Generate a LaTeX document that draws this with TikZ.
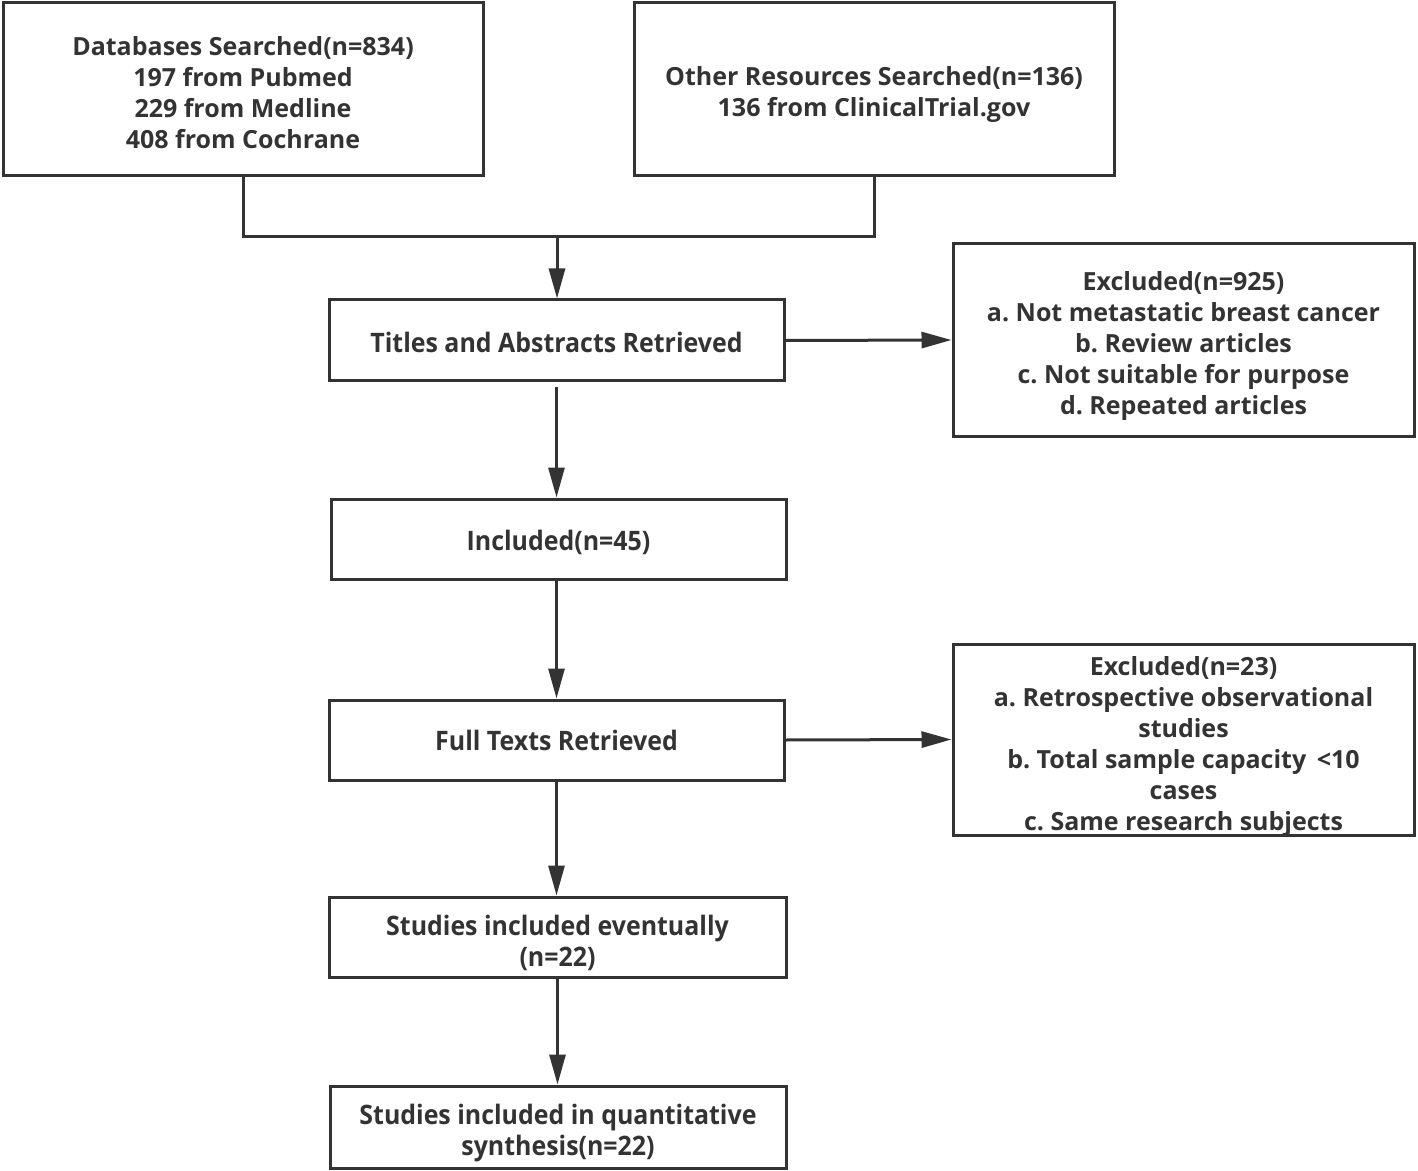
\documentclass[tikz,border=0pt]{standalone}
\usepackage{fontspec}
\setmainfont{Open Sans}
\newfontfamily\condfont[FakeStretch=0.93]{Open Sans}
\usetikzlibrary{arrows.meta}
\definecolor{ink}{HTML}{333333}
\frenchspacing
\begin{document}
\begin{tikzpicture}[x=0.5pt,y=-0.5pt,
  frame/.style={draw=ink, line width=1.5pt, inner sep=0pt},
  txt/.style={text=ink, align=center, inner sep=0pt,
    font=\fontsize{12.5}{15.5}\selectfont\bfseries},
  ctxt/.style={txt, font=\fontsize{13.4}{15.5}\selectfont\condfont\bfseries},
  conn/.style={draw=ink, line width=1.5pt},
  arr/.style={conn, -{Triangle[length=15pt,width=8pt]}}]
\useasboundingbox (0,0) rectangle (1418,1171);
% frames
\node[frame, minimum width=240pt, minimum height=86.5pt] (db) at (243,89.5) {};
\node[frame, minimum width=240pt, minimum height=86.5pt] (other) at (874,89.5) {};
\node[frame, minimum width=227.5pt, minimum height=40.5pt] (tar) at (556.5,340.5) {};
\node[frame, minimum width=230.5pt, minimum height=96pt] (exc1) at (1183.5,340) {};
\node[frame, minimum width=227.5pt, minimum height=40pt] (inc) at (558.5,539) {};
\node[frame, minimum width=227.5pt, minimum height=40pt] (full) at (556.5,740) {};
\node[frame, minimum width=230.5pt, minimum height=95.5pt] (exc2) at (1183.5,739.5) {};
\node[frame, minimum width=228.5pt, minimum height=40pt] (ev) at (557.5,937) {};
\node[frame, minimum width=228pt, minimum height=41pt] (qs) at (558,1127) {};
% texts
\node[txt] (dbT) at ([yshift=-1.5pt]db.center)
  {Databases Searched(n=834)\\197 from Pubmed\\229 from Medline\\408 from Cochrane};
\node[txt] (otherT) at ([yshift=-2.5pt]other.center)
  {Other Resources Searched(n=136)\\136 from ClinicalTrial.gov};
\node[ctxt] (tarT) at ([yshift=-1pt]tar.center) {Titles and Abstracts Retrieved};
\node[txt] (exc1T) at ([yshift=-3.2pt]exc1.center)
  {Excluded(n=925)\\a. Not metastatic breast cancer\\b. Review articles\\c. Not suitable for purpose\\d. Repeated articles};
\node[ctxt] (incT) at ([yshift=-1.5pt]inc.center) {Included(n=45)};
\node[ctxt] (fullT) at (full.center) {Full Texts Retrieved};
\node[txt] (exc2T) at ([yshift=-3.5pt]exc2.center)
  {Excluded(n=23)\\a. Retrospective observational\\studies\\b. Total sample capacity \,<10\\cases\\c. Same research subjects};
\node[ctxt] (evT) at ([yshift=-3pt]ev.center) {Studies included eventually\\(n=22)};
\node[ctxt] (qsT) at ([yshift=-3pt]qs.center) {Studies included in quantitative\\synthesis(n=22)};
% connectors
\coordinate (j) at (557,237);
\draw[conn] (db.south) -- (db.south |- j) -- (other.south |- j) -- (other.south);
\draw[arr] (j) -- (j |- tar.north);
\draw[arr] (tar.east) -- (exc1.west);
\draw[arr] ([yshift=-2.5pt]tar.south) -- (tar.south |- inc.north);
\draw[arr] (inc.south -| full.north) -- (full.north);
\draw[arr] (full.east) -- (exc2.west);
\draw[arr] (full.south) -- (full.south |- ev.north);
\draw[arr] (ev.south) -- (ev.south |- qs.north);
\end{tikzpicture}
\end{document}
